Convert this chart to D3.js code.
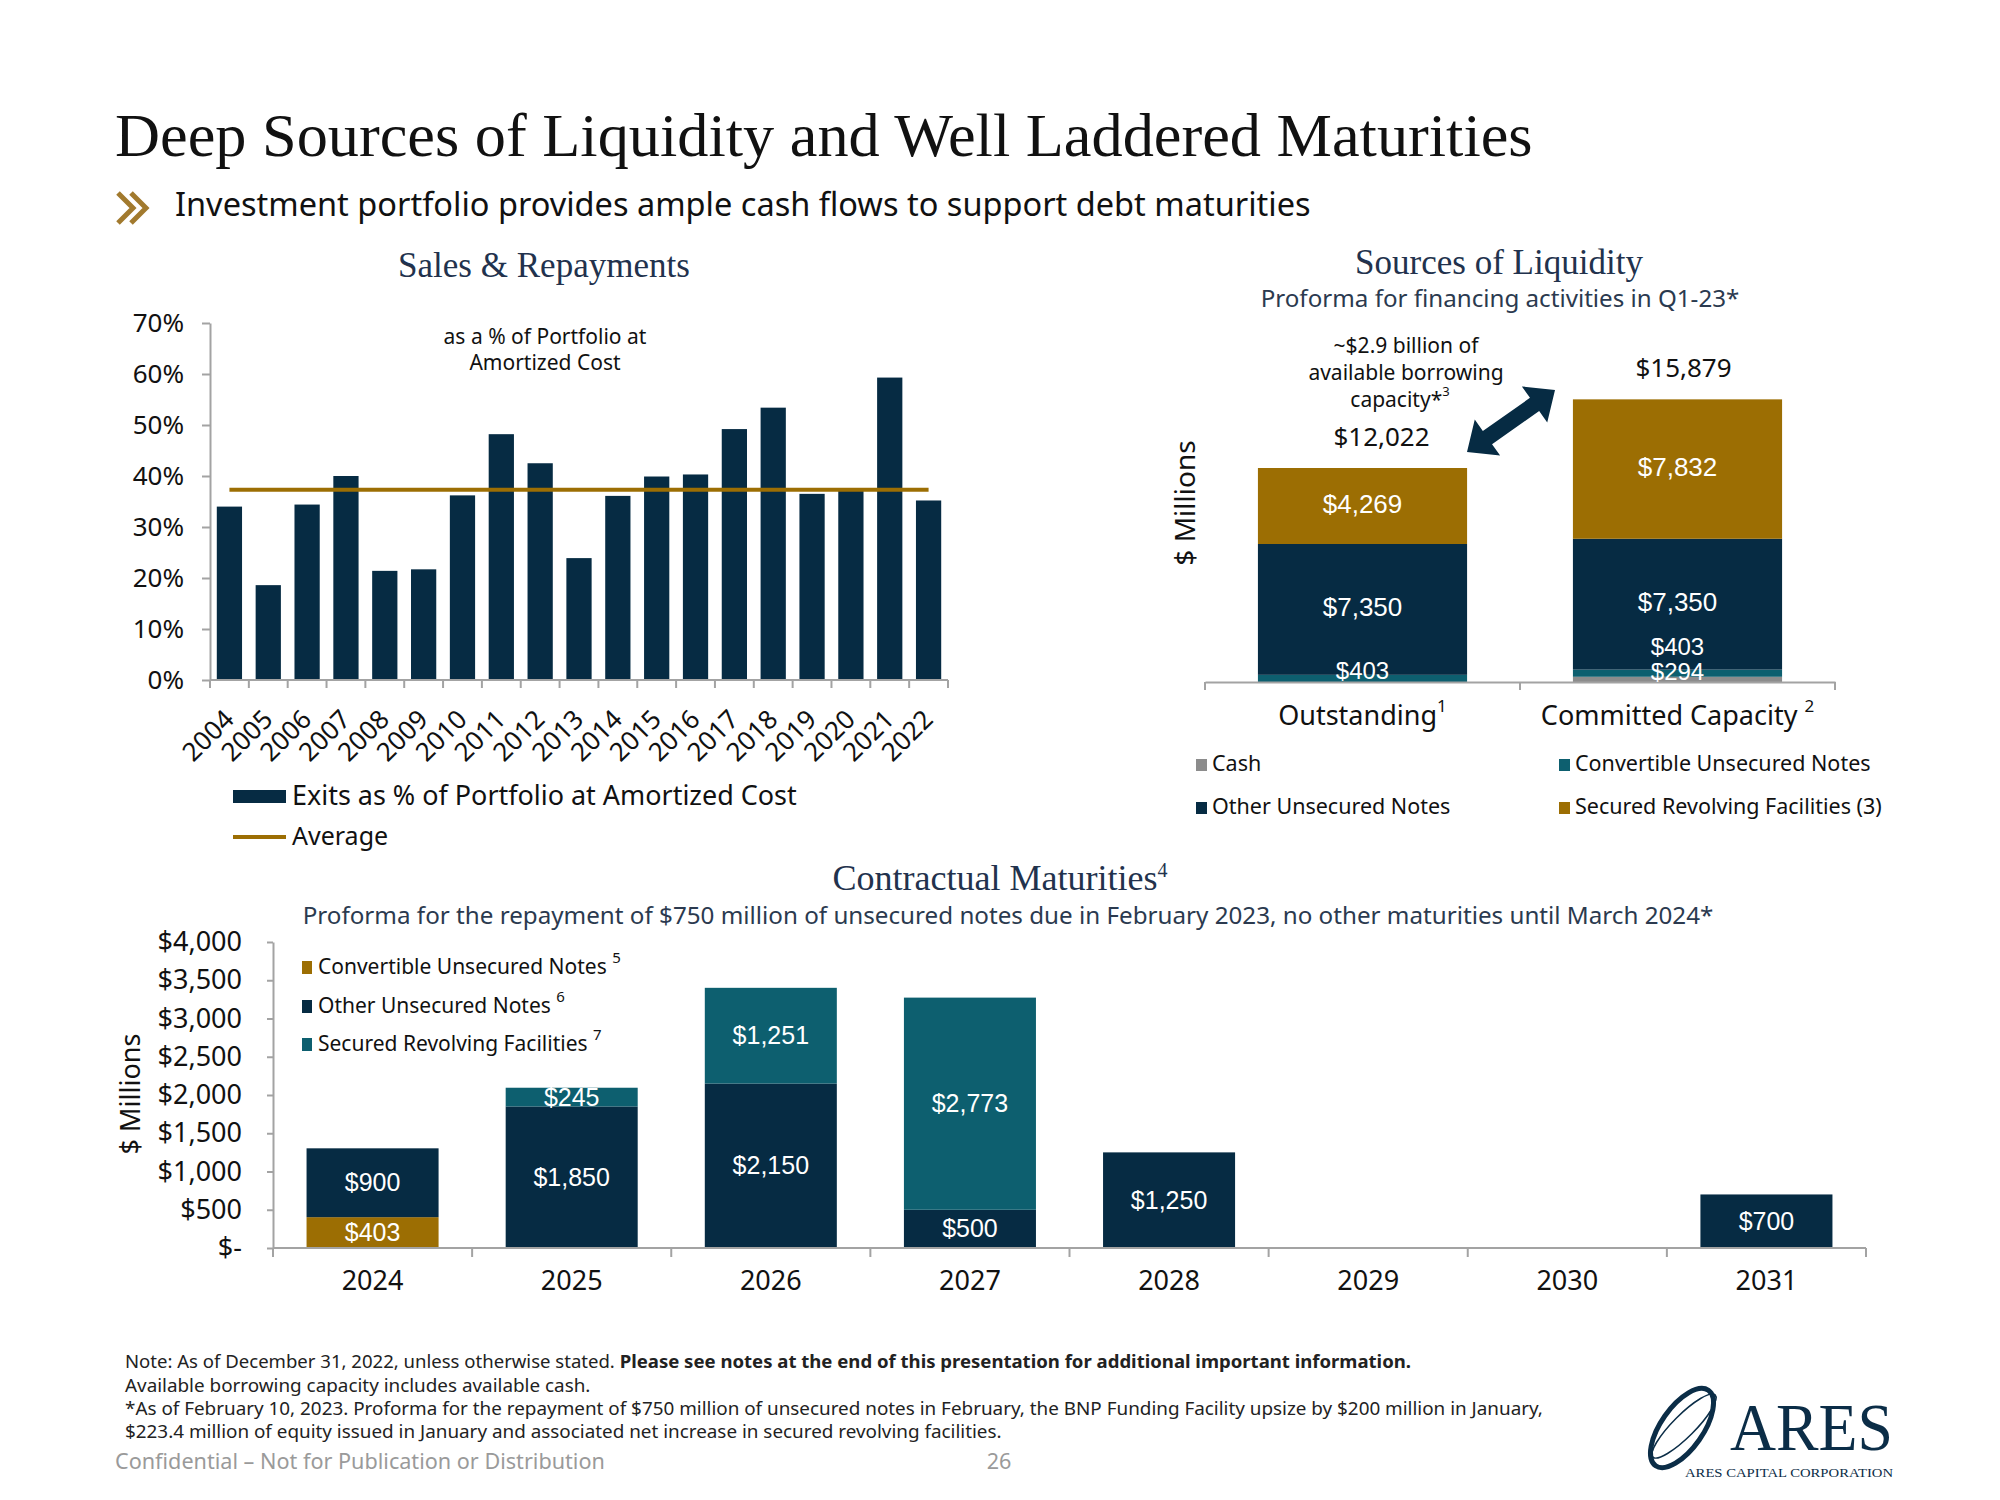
<!DOCTYPE html>
<html><head><meta charset="utf-8">
<script src="https://cdn.jsdelivr.net/npm/d3@7"></script>
<style>body{margin:0;background:#fff} svg{display:block}</style>
</head><body><svg id="c" width="2000" height="1500"></svg>
<script>
// ---------------- DATA ----------------
const salesYears = ["2004","2005","2006","2007","2008","2009","2010","2011","2012","2013","2014","2015","2016","2017","2018","2019","2020","2021","2022"];
const exitsPct = [34.0,18.6,34.4,40.0,21.4,21.7,36.2,48.2,42.5,23.9,36.1,39.9,40.3,49.2,53.4,36.5,37.1,59.3,35.2];
const averagePct = 37.3;
const salesTicks = [0,10,20,30,40,50,60,70];

const liqCategories = ["Outstanding","Committed Capacity"];
const liqSuperscripts = ["1","2"];
const liqSeriesNames = ["Cash","Convertible Unsecured Notes","Other Unsecured Notes","Secured Revolving Facilities (3)"];
const liqCash = [0, 294];
const liqConvertible = [403, 403];
const liqOther = [7350, 7350];
const liqSecured = [4269, 7832];

const matYears = ["2024","2025","2026","2027","2028","2029","2030","2031"];
const matSeriesNames = ["Convertible Unsecured Notes","Other Unsecured Notes","Secured Revolving Facilities"];
const matSeriesSup = ["5","6","7"];
const matConvertible = [403,0,0,0,0,0,0,0];
const matOther = [900,1850,2150,500,1250,0,0,700];
const matSecured = [0,245,1251,2773,0,0,0,0];
const matTicks = [0,500,1000,1500,2000,2500,3000,3500,4000];

// ---------------- STYLE ----------------
const NAVY="#062b43", GOLD="#9c6e03", TEAL="#0d5f6f", GRAY="#8c8c8c", AXIS="#a3a3a3";
const SANS="'Noto Sans','Open Sans',sans-serif", SERIF="'Liberation Serif','DejaVu Serif',serif", VAL="'Liberation Sans',Arial,sans-serif";
const TITLEC="#22324d";

const svg = d3.select("#c");
svg.append("rect").attr("width",2000).attr("height",1500).attr("fill","#fff");

function T(p, x, y, s, o={}) {
  const t = p.append("text").attr("x",x).attr("y",y).text(s)
    .attr("font-family", o.ff||SANS).attr("font-size", o.fs||20).attr("fill", o.fill||"#111")
    .attr("text-anchor", o.anchor||"start").attr("dominant-baseline", o.db||"middle");
  if (o.fw) t.attr("font-weight", o.fw);
  return t;
}
function sup(t, s, fs, dy) {
  t.append("tspan").attr("dy", dy).attr("font-size", fs).text(s);
  return t;
}
function fit(t, w) {
  const l = t.node().getComputedTextLength();
  const fs = parseFloat(t.attr("font-size"));
  t.attr("font-size", fs * w / l);
  return fs * w / l;
}
function styleAxis(g, fs) {
  g.select(".domain").attr("stroke", AXIS).attr("stroke-width", 2);
  g.selectAll(".tick line").attr("stroke", AXIS).attr("stroke-width", 2);
  g.selectAll(".tick text").attr("font-family", SANS).attr("font-size", fs).attr("fill", "#111");
}

// ---------------- HEADER ----------------
fit(T(svg, 115, 156, "Deep Sources of Liquidity and Well Laddered Maturities", {ff:SERIF, fs:58, db:"alphabetic", fill:"#111"}), 1418);
svg.append("path").attr("d","M118,193 L133,208 L118,223 M131,193 L146,208 L131,223")
  .attr("fill","none").attr("stroke","#a27a2e").attr("stroke-width",5);
fit(T(svg, 175, 216, "Investment portfolio provides ample cash flows to support debt maturities", {fs:29, db:"alphabetic"}), 1136);

// ---------------- SALES & REPAYMENTS ----------------
const gS = svg.append("g");
fit(T(gS, 544, 269, "Sales & Repayments", {ff:SERIF, fs:31, anchor:"middle", fill:TITLEC}), 292);
const sx = d3.scaleBand().domain(salesYears).range([210,948]).paddingInner(0.35).paddingOuter(0.175);
const sy = d3.scaleLinear().domain([0,70]).range([680,323]);
gS.selectAll("rect.bar").data(exitsPct).join("rect").attr("class","bar")
  .attr("x",(d,i)=>sx(salesYears[i])).attr("y",d=>sy(d))
  .attr("width",sx.bandwidth()).attr("height",d=>sy(0)-sy(d)).attr("fill",NAVY);
const ya = gS.append("g").attr("transform","translate(210,0)")
  .call(d3.axisLeft(sy).tickValues(salesTicks).tickFormat(d=>d+"%").tickSize(8).tickSizeOuter(0).tickPadding(18));
styleAxis(ya, 26);
gS.append("line").attr("x1",210).attr("x2",948).attr("y1",sy(0)).attr("y2",sy(0)).attr("stroke",AXIS).attr("stroke-width",2);
const sBounds = salesYears.map(d=>sx(d)-sx.step()*sx.paddingInner()/2).concat([sx.range()[1]]);
gS.selectAll("line.xt").data(sBounds).join("line").attr("class","xt")
  .attr("x1",d=>d).attr("x2",d=>d).attr("y1",sy(0)).attr("y2",sy(0)+8).attr("stroke",AXIS).attr("stroke-width",2);
gS.selectAll("text.xl").data(salesYears).join("text").attr("class","xl")
  .attr("transform",d=>`translate(${sx(d)+sx.bandwidth()/2+6},721) rotate(-45)`)
  .attr("text-anchor","end").attr("font-family",SANS).attr("font-size",26).attr("fill","#111").text(d=>d);
gS.append("line").attr("x1",sx(salesYears[0])+sx.bandwidth()/2).attr("x2",sx(salesYears[salesYears.length-1])+sx.bandwidth()/2)
  .attr("y1",sy(averagePct)).attr("y2",sy(averagePct)).attr("stroke",GOLD).attr("stroke-width",4);
T(gS, 545, 338, "as a % of Portfolio at", {fs:21, anchor:"middle"});
T(gS, 545, 364, "Amortized Cost", {fs:21, anchor:"middle"});
gS.append("rect").attr("x",233).attr("y",790).attr("width",53).attr("height",13).attr("fill",NAVY);
fit(T(gS, 292, 798, "Exits as % of Portfolio at Amortized Cost", {fs:25}), 505);
gS.append("line").attr("x1",233).attr("x2",286).attr("y1",837).attr("y2",837).attr("stroke",GOLD).attr("stroke-width",4);
T(gS, 292, 838, "Average", {fs:25});

// ---------------- SOURCES OF LIQUIDITY ----------------
const gL = svg.append("g");
fit(T(gL, 1499, 266, "Sources of Liquidity", {ff:SERIF, fs:31, anchor:"middle", fill:TITLEC}), 288);
fit(T(gL, 1500, 301, "Proforma for financing activities in Q1-23*", {fs:22, anchor:"middle", fill:"#2b3a4f"}), 479);
const liqTable = liqCategories.map((c,i)=>({cat:c, cash:liqCash[i], conv:liqConvertible[i], other:liqOther[i], secured:liqSecured[i]}));
const liqKeys = ["cash","conv","other","secured"];
const liqColors = [GRAY, TEAL, NAVY, GOLD];
const lx = d3.scaleBand().domain(liqCategories).range([1205,1835]).paddingInner(0.336).paddingOuter(0.168);
const ly = d3.scaleLinear().domain([0,18000]).range([682,682-18000*0.0178]);
const liqStack = d3.stack().keys(liqKeys)(liqTable);
liqStack.forEach((s,k)=>{
  gL.selectAll(null).data(s).join("rect")
    .attr("x",d=>lx(d.data.cat)).attr("width",lx.bandwidth())
    .attr("y",d=>ly(d[1])).attr("height",d=>ly(d[0])-ly(d[1])).attr("fill",liqColors[k]);
});
const lax = gL.append("g").attr("transform","translate(0,682)")
  .call(d3.axisBottom(lx).tickSize(0).tickFormat(""));
styleAxis(lax, 20);
const lBounds = liqCategories.map(d=>lx(d)-lx.step()*lx.paddingInner()/2).concat([lx.range()[1]]);
lBounds[0] = lx.range()[0];
gL.selectAll("line.xt").data(lBounds).join("line").attr("class","xt")
  .attr("x1",d=>d).attr("x2",d=>d).attr("y1",682).attr("y2",690).attr("stroke",AXIS).attr("stroke-width",2);
const totalDx = [19, 6];
liqCategories.forEach((c,i)=>{
  let prevY = null;
  liqStack.forEach((s,k)=>{
    const d = s[i]; const v = d[1]-d[0];
    if (v<=0) return;
    const h = ly(d[0])-ly(d[1]);
    let y = (ly(d[0])+ly(d[1]))/2;
    if (h < 20) { y -= 6; if (prevY!==null && prevY - y < 25) y = prevY - 25; }
    prevY = y;
    T(gL, lx(c)+lx.bandwidth()/2, y, "$"+d3.format(",")(v), {ff:VAL, fs:h<20?24:26, anchor:"middle", fill:"#fff"});
  });
  const tot = liqCash[i]+liqConvertible[i]+liqOther[i]+liqSecured[i];
  T(gL, lx(c)+lx.bandwidth()/2+totalDx[i], ly(tot)-29, "$"+d3.format(",")(tot), {fs:26, anchor:"middle"});
  const ct = T(gL, lx(c)+lx.bandwidth()/2, 718, c + (i===1?" ":""), {fs:27, anchor:"middle"});
  sup(ct, liqSuperscripts[i], 17, -11);
});
T(gL, 1406, 347, "~$2.9 billion of", {fs:21, anchor:"middle"});
T(gL, 1406, 374, "available borrowing", {fs:21, anchor:"middle"});
sup(T(gL, 1400, 401, "capacity*", {fs:21, anchor:"middle"}), "3", 13, -8);
(function(){
  const x1=1467,y1=452,x2=1555,y2=390, sw=8, hw=22, hl=25;
  const L=Math.hypot(x2-x1,y2-y1), ux=(x2-x1)/L, uy=(y2-y1)/L, nx=-uy, ny=ux;
  const P=(bx,by,a,b)=>[bx+ux*a+nx*b, by+uy*a+ny*b];
  const pts=[[x1,y1],P(x1,y1,hl,hw),P(x1,y1,hl,sw),P(x2,y2,-hl,sw),P(x2,y2,-hl,hw),[x2,y2],P(x2,y2,-hl,-hw),P(x2,y2,-hl,-sw),P(x1,y1,hl,-sw),P(x1,y1,hl,-hw)];
  gL.append("polygon").attr("points",pts.map(p=>p.join(",")).join(" ")).attr("fill",NAVY);
})();
T(gL, 0, 0, "$ Millions", {fs:28, anchor:"middle"}).attr("transform","translate(1187,503) rotate(-90)");
const liqLegend = [[1196,765,0],[1559,765,1],[1196,808,2],[1559,808,3]];
liqLegend.forEach(([x,y,k])=>{
  gL.append("rect").attr("x",x).attr("y",y-6).attr("width",11).attr("height",12).attr("fill",liqColors[k]);
  T(gL, x+16, y, liqSeriesNames[k], {fs:21.5});
});

// ---------------- CONTRACTUAL MATURITIES ----------------
const gM = svg.append("g");
const mt = T(gM, 1000, 882, "Contractual Maturities", {ff:SERIF, fs:31, anchor:"middle", fill:TITLEC});
sup(mt, "4", 20, -10);
fit(mt, 337);
fit(T(gM, 1008, 918, "Proforma for the repayment of $750 million of unsecured notes due in February 2023, no other maturities until March 2024*", {fs:23, anchor:"middle", fill:"#2b3a4f"}), 1412);
const matTable = matYears.map((y,i)=>({year:y, conv:matConvertible[i], other:matOther[i], secured:matSecured[i]}));
const matKeys = ["conv","other","secured"];
const matColors = [GOLD, NAVY, TEAL];
const mx = d3.scaleBand().domain(matYears).range([273,1866]).paddingInner(0.337).paddingOuter(0.1685);
const my = d3.scaleLinear().domain([0,4000]).range([1248,942]);
const matStack = d3.stack().keys(matKeys)(matTable);
matStack.forEach((s,k)=>{
  gM.selectAll(null).data(s.filter(d=>d[1]>d[0])).join("rect")
    .attr("x",d=>mx(d.data.year)).attr("width",mx.bandwidth())
    .attr("y",d=>my(d[1])).attr("height",d=>my(d[0])-my(d[1])).attr("fill",matColors[k]);
  gM.selectAll(null).data(s.filter(d=>d[1]>d[0])).join("text")
    .attr("x",d=>mx(d.data.year)+mx.bandwidth()/2).attr("y",d=>(my(d[0])+my(d[1]))/2+2)
    .attr("text-anchor","middle").attr("dominant-baseline","middle")
    .attr("font-family",VAL).attr("font-size",25).attr("fill","#fff")
    .text(d=>"$"+d3.format(",")(d[1]-d[0]));
});
const may = gM.append("g").attr("transform","translate(273,0)")
  .call(d3.axisLeft(my).tickValues(matTicks).tickFormat(d=>d===0?"$-":"$"+d3.format(",")(d)).tickSize(6).tickSizeOuter(0).tickPadding(25));
styleAxis(may, 27);
gM.append("line").attr("x1",273).attr("x2",1866).attr("y1",1248).attr("y2",1248).attr("stroke",AXIS).attr("stroke-width",2);
const mBounds = matYears.map(d=>mx(d)-mx.step()*mx.paddingInner()/2).concat([mx.range()[1]]);
mBounds[0] = mx.range()[0];
gM.selectAll("line.xt").data(mBounds).join("line").attr("class","xt")
  .attr("x1",d=>d).attr("x2",d=>d).attr("y1",1248).attr("y2",1257).attr("stroke",AXIS).attr("stroke-width",2);
gM.selectAll("text.xl").data(matYears).join("text").attr("class","xl")
  .attr("x",d=>mx(d)+mx.bandwidth()/2).attr("y",1283).attr("text-anchor","middle").attr("dominant-baseline","middle")
  .attr("font-family",SANS).attr("font-size",27).attr("fill","#111").text(d=>d);
T(gM, 0, 0, "$ Millions", {fs:27, anchor:"middle"}).attr("transform","translate(133,1094) rotate(-90)");
[968,1007,1045].forEach((y,k)=>{
  gM.append("rect").attr("x",302).attr("y",y-7).attr("width",10).attr("height",13).attr("fill",matColors[k]);
  sup(T(gM, 318, y, matSeriesNames[k] + " ", {fs:21}), matSeriesSup[k], 15, -9);
});

// ---------------- FOOTER ----------------
const gF = svg.append("g");
const f1 = T(gF, 125, 1363, "Note: As of December 31, 2022, unless otherwise stated. ", {fs:17, fill:"#222"});
f1.append("tspan").attr("font-weight","bold").text("Please see notes at the end of this presentation for additional important information.");
fit(f1, 1287);
const f3 = T(gF, 125, 1410, "*As of February 10, 2023. Proforma for the repayment of $750 million of unsecured notes in February, the BNP Funding Facility upsize by $200 million in January,", {fs:17, fill:"#222"});
const ffs = fit(f3, 1418);
T(gF, 125, 1387, "Available borrowing capacity includes available cash.", {fs:ffs, fill:"#222"});
T(gF, 125, 1433, "$223.4 million of equity issued in January and associated net increase in secured revolving facilities.", {fs:ffs, fill:"#222"});
const cf = T(gF, 115, 1463, "Confidential \u2013 Not for Publication or Distribution", {fs:18, fill:"#9a9a9a"});
const cfs = fit(cf, 490);
T(gF, 999, 1463, "26", {fs:cfs, fill:"#9a9a9a", anchor:"middle"});
// logo
const LOGO="#0b2d47";
gF.append("ellipse").attr("cx",1682).attr("cy",1428).attr("rx",46).attr("ry",21)
  .attr("transform","rotate(-55,1682,1428)").attr("fill","none").attr("stroke",LOGO).attr("stroke-width",5);
gF.append("ellipse").attr("cx",1684).attr("cy",1426).attr("rx",44).attr("ry",11)
  .attr("transform","rotate(-45,1684,1426)").attr("fill","none").attr("stroke",LOGO).attr("stroke-width",1.5);
T(gF, 1730, 1450, "ARES", {ff:SERIF, fs:68, fill:LOGO, db:"alphabetic"}).attr("textLength",163).attr("lengthAdjust","spacingAndGlyphs");
T(gF, 1685, 1477, "ARES CAPITAL CORPORATION", {ff:SERIF, fs:12, fill:LOGO, db:"alphabetic"}).attr("textLength",208).attr("lengthAdjust","spacingAndGlyphs");
</script></body></html>
